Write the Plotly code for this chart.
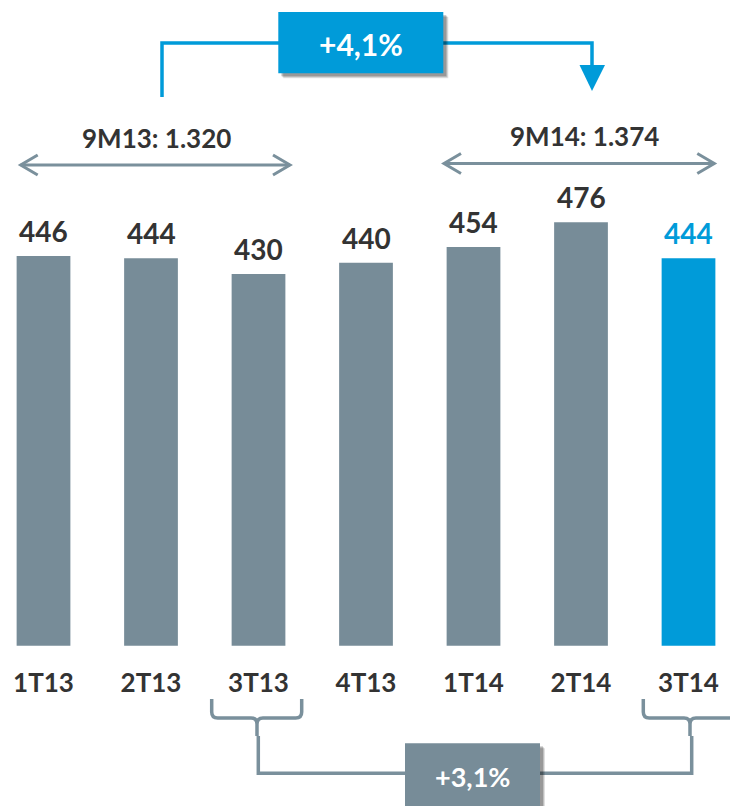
import plotly.graph_objects as go

# ---- data ----
categories = ["1T13", "2T13", "3T13", "4T13", "1T14", "2T14", "3T14"]
values = [446, 444, 430, 440, 454, 476, 444]
period_labels = ["9M13: 1.320", "9M14: 1.374"]
growth_top = "+4,1%"
growth_bottom = "+3,1%"

# ---- style ----
W, H = 730, 806
GRAY = "#778C98"
LINE_GRAY = "#7A909C"
BLUE = "#009BD9"
DARK = "#333333"
FONT = "Lato, 'Open Sans', sans-serif"
highlight = len(categories) - 1
bar_colors = [BLUE if i == highlight else GRAY for i in range(len(categories))]
text_colors = [BLUE if i == highlight else DARK for i in range(len(categories))]


def px(x):
    return x / W


def py(y):
    return 1 - y / H


def path_px(points):
    """Build an SVG path in paper coordinates from pixel commands."""
    out = []
    for cmd in points:
        if isinstance(cmd, str):
            out.append(cmd)
        else:
            out.append(f"{px(cmd[0]):.5f},{py(cmd[1]):.5f}")
    return " ".join(out)


fig = go.Figure()
fig.add_trace(go.Bar(
    x=categories,
    y=values,
    width=0.5,
    marker=dict(color=bar_colors, line=dict(width=0)),
    hoverinfo="skip",
))

# axis geometry (pixels -> data)
bar_bottom_px = 645.7
base_val = 100
px_per_unit = 1.1263
y_top_val = base_val + bar_bottom_px / px_per_unit
x_step = 107.5
x0 = -43.5 / x_step

fig.update_layout(
    width=W, height=H,
    margin=dict(l=0, r=0, t=0, b=0),
    paper_bgcolor="white", plot_bgcolor="white",
    showlegend=False,
    xaxis=dict(
        range=[x0, x0 + W / x_step],
        showgrid=False, zeroline=False, showline=False, ticks="",
        tickfont=dict(family=FONT, size=26, color=DARK, weight="bold"),
        ticklabelstandoff=19,
    ),
    yaxis=dict(
        range=[base_val, y_top_val],
        domain=[1 - bar_bottom_px / H, 1],
        visible=False,
    ),
)

shapes = []
annotations = []

# ---- value labels above the bars ----
for cat, val, col in zip(categories, values, text_colors):
    annotations.append(dict(x=cat, y=val, xref="x", yref="y", text=str(val), showarrow=False,
                            xanchor="center", yanchor="bottom", yshift=6,
                            font=dict(family=FONT, size=28, color=col, weight="bold")))

# ---- top blue connector with arrow ----
shapes.append(dict(type="path", xref="paper", yref="paper",
                   path=path_px(["M", (162, 97), "L", (162, 43), "L", (592, 43), "L", (592, 68)]),
                   line=dict(color=BLUE, width=3.5)))
shapes.append(dict(type="path", xref="paper", yref="paper",
                   path=path_px(["M", (579.5, 65), "L", (605, 65), "L", (592, 91), "Z"]),
                   fillcolor=BLUE, line=dict(width=0)))
# shadow + box
for off, op in [(5, 0.12), (4, 0.15), (3, 0.2)]:
    shapes.append(dict(type="rect", xref="paper", yref="paper",
                       x0=px(278.3 + off), x1=px(443.3 + off), y0=py(73.3 + off), y1=py(12 + off),
                       fillcolor=f"rgba(0,0,0,{op})", line=dict(width=0)))
shapes.append(dict(type="rect", xref="paper", yref="paper",
                   x0=px(278.3), x1=px(443.3), y0=py(73.3), y1=py(12),
                   fillcolor=BLUE, line=dict(width=0)))
annotations.append(dict(xref="paper", yref="paper", x=px(361), y=py(44),
                        text=growth_top, showarrow=False, xanchor="center", yanchor="middle",
                        font=dict(family=FONT, size=30, color="white", weight="bold")))

# ---- double-headed arrows for 9M periods ----
arrows = [(20.7, 290, 165, 156, 137.5), (444, 714.3, 163.5, 584.5, 136)]
for (xa, xb, ya, tx, ty), lab in zip(arrows, period_labels):
    shapes.append(dict(type="path", xref="paper", yref="paper",
                       path=path_px(["M", (xa, ya), "L", (xb, ya)]),
                       line=dict(color=LINE_GRAY, width=3)))
    shapes.append(dict(type="path", xref="paper", yref="paper",
                       path=path_px(["M", (xa + 17, ya - 10), "L", (xa, ya), "L", (xa + 17, ya + 10)]),
                       line=dict(color=LINE_GRAY, width=3)))
    shapes.append(dict(type="path", xref="paper", yref="paper",
                       path=path_px(["M", (xb - 17, ya - 10), "L", (xb, ya), "L", (xb - 17, ya + 10)]),
                       line=dict(color=LINE_GRAY, width=3)))
    annotations.append(dict(xref="paper", yref="paper", x=px(tx), y=py(ty),
                            text=lab, showarrow=False, xanchor="center", yanchor="middle",
                            font=dict(family=FONT, size=26, color=DARK, weight="bold")))


# ---- bottom braces and connector ----
def brace(l, r, c, top=699, mid=718, tail=736, rad=6):
    return path_px([
        "M", (l, top), "L", (l, mid - rad), "Q", (l, mid), (l + rad, mid), "L", (c - rad, mid),
        "Q", (c, mid), (c, mid + rad), "L", (c, tail),
        "M", (r, top), "L", (r, mid - rad), "Q", (r, mid), (r - rad, mid), "L", (c + rad, mid),
        "Q", (c, mid), (c, mid + rad),
    ])


shapes.append(dict(type="path", xref="paper", yref="paper", path=brace(211.7, 301.7, 257),
                   line=dict(color=LINE_GRAY, width=3.5)))
shapes.append(dict(type="path", xref="paper", yref="paper", path=brace(643.3, 735, 690),
                   line=dict(color=LINE_GRAY, width=3.5)))
shapes.append(dict(type="path", xref="paper", yref="paper",
                   path=path_px(["M", (258.3, 736), "L", (258.3, 773.3), "L", (691.7, 773.3), "L", (691.7, 736)]),
                   line=dict(color=LINE_GRAY, width=3.5)))
for off, op in [(5, 0.12), (4, 0.15), (3, 0.2)]:
    shapes.append(dict(type="rect", xref="paper", yref="paper",
                       x0=px(405 + off), x1=px(540 + off), y0=py(820), y1=py(743.3 + off),
                       fillcolor=f"rgba(0,0,0,{op})", line=dict(width=0)))
shapes.append(dict(type="rect", xref="paper", yref="paper",
                   x0=px(405), x1=px(540), y0=py(820), y1=py(743.3),
                   fillcolor=GRAY, line=dict(width=0)))
annotations.append(dict(xref="paper", yref="paper", x=px(472.5), y=py(776.5),
                        text=growth_bottom, showarrow=False, xanchor="center", yanchor="middle",
                        font=dict(family=FONT, size=27, color="white", weight="bold")))

fig.update_layout(shapes=shapes, annotations=annotations)
fig.write_html("out.html", config={"displayModeBar": False},
               post_script="document.body.style.margin='0';document.body.style.overflow='hidden';")
